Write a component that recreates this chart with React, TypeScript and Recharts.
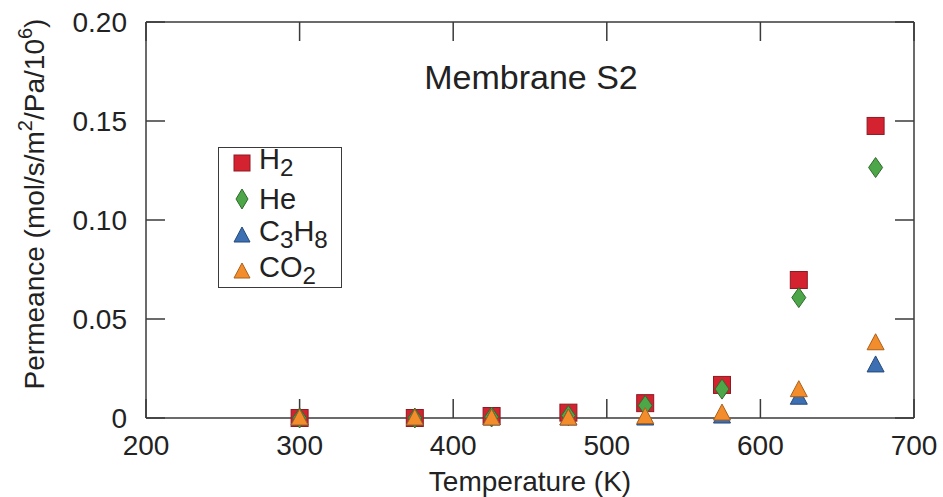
import React from 'react';
import { ScatterChart, Scatter, XAxis, YAxis, Label } from 'recharts';

// temperatures (K) and permeance (mol/s/m2/Pa/10^6)
const temps = [300, 375, 425, 475, 525, 575, 625, 675];
const h2 = [0, 0, 0.001, 0.0027, 0.0075, 0.0167, 0.0697, 0.1475];
const he = [0, 0, 0.0005, 0.0012, 0.0063, 0.0146, 0.0608, 0.1265];
const c3h8 = [0, 0, 0, 0, 0, 0.001, 0.0105, 0.0268];
const co2 = [0, 0, 0, 0, 0.0007, 0.0025, 0.0143, 0.038];

const xTicks = [200, 300, 400, 500, 600, 700];
const yTicks = [0, 0.05, 0.1, 0.15, 0.2];

const toPoints = (vals: number[]) => temps.map((t, i) => ({ t, v: vals[i] }));

const FONT = '"Liberation Sans", Arial, Helvetica, sans-serif';
const AXIS = '#3a3a3a';

const C = {
  h2: { fill: '#d42230', stroke: '#8e1a22' },
  he: { fill: '#4da648', stroke: '#2e6a2b' },
  c3h8: { fill: '#3c70b2', stroke: '#24497a' },
  co2: { fill: '#f38d2c', stroke: '#a9601c' },
};

const Square = (p: any) => (
  <rect x={p.cx - 8.5} y={p.cy - 8.5} width={17} height={17} fill={C.h2.fill} stroke={C.h2.stroke} strokeWidth={1} />
);
const Diamond = (p: any) => (
  <path d={`M${p.cx},${p.cy - 10} L${p.cx + 7},${p.cy} L${p.cx},${p.cy + 10} L${p.cx - 7},${p.cy} Z`} fill={C.he.fill} stroke={C.he.stroke} strokeWidth={1} />
);
const tri = (col: { fill: string; stroke: string }) => (p: any) => (
  <path d={`M${p.cx},${p.cy - 9} L${p.cx + 8.5},${p.cy + 7} L${p.cx - 8.5},${p.cy + 7} Z`} fill={col.fill} stroke={col.stroke} strokeWidth={1} />
);
const Nothing = () => <g />;

const YTitle = (props: any) => {
  const { viewBox } = props;
  const x = 44;
  const y = viewBox.y + viewBox.height / 2 - 16;
  return (
    <text x={x} y={y} transform={`rotate(-90 ${x} ${y})`} textAnchor="middle" fontSize={28} fontFamily={FONT} fill="#222">
      Permeance (mol/s/m<tspan dy={-12} fontSize={20}>2</tspan>
      <tspan dy={12}>/Pa/10</tspan>
      <tspan dy={-12} fontSize={20}>6</tspan>
      <tspan dy={12}>)</tspan>
    </text>
  );
};

const legendItems = [
  { key: 'h2', label: <>H<sub>2</sub></> },
  { key: 'he', label: <>He</> },
  { key: 'c3h8', label: <>C<sub>3</sub>H<sub>8</sub></> },
  { key: 'co2', label: <>CO<sub>2</sub></> },
];

const LegendIcon = ({ k }: { k: string }) => {
  if (k === 'h2') return <svg width={20} height={22}><rect x={2} y={3} width={16} height={16} fill={C.h2.fill} stroke={C.h2.stroke} /></svg>;
  if (k === 'he') return <svg width={20} height={22}><path d="M10,1 L16,11 L10,21 L4,11 Z" fill={C.he.fill} stroke={C.he.stroke} /></svg>;
  const col = k === 'c3h8' ? C.c3h8 : C.co2;
  return <svg width={20} height={22}><path d="M10,3 L18,18 L2,18 Z" fill={col.fill} stroke={col.stroke} /></svg>;
};

const tickStyle = { fontSize: 28, fontFamily: FONT, fill: '#222' };

export default function App() {
  return (
    <div style={{ position: 'absolute', left: 0, top: 0, width: 943, height: 497, background: '#fff', fontFamily: FONT }}>
      <ScatterChart width={943} height={497} margin={{ top: 21, right: 28, left: 0, bottom: 0 }}>
        <XAxis
          dataKey="t"
          type="number"
          domain={[200, 700]}
          ticks={xTicks}
          height={79}
          tickSize={-19}
          tickMargin={36}
          tick={tickStyle}
          stroke={AXIS}
          strokeWidth={1.5}
        >
          <Label value="Temperature (K)" position="insideBottom" offset={6} style={{ fontSize: 28, fontFamily: FONT, fill: '#222' }} />
        </XAxis>
        <XAxis
          xAxisId="top"
          dataKey="t"
          orientation="top"
          type="number"
          domain={[200, 700]}
          allowDataOverflow
          ticks={xTicks}
          height={1}
          tickSize={-19}
          tick={Nothing}
          stroke={AXIS}
          strokeWidth={1.5}
        />
        <YAxis
          dataKey="v"
          type="number"
          domain={[0, 0.2]}
          ticks={yTicks}
          width={146}
          tickSize={-19}
          tickMargin={38}
          tick={tickStyle}
          tickFormatter={(v: number) => (v === 0 ? '0' : v.toFixed(2))}
          stroke={AXIS}
          strokeWidth={1.5}
        >
          <Label content={YTitle} />
        </YAxis>
        <YAxis
          yAxisId="right"
          dataKey="v"
          orientation="right"
          type="number"
          domain={[0, 0.2]}
          allowDataOverflow
          ticks={yTicks}
          width={1}
          tickSize={-19}
          tick={Nothing}
          stroke={AXIS}
          strokeWidth={1.5}
        />
        {/* invisible series so the frame axes (top/right) get drawn */}
        <Scatter data={toPoints(h2)} xAxisId="top" yAxisId="right" shape={Nothing} isAnimationActive={false} />
        <Scatter name="H2" data={toPoints(h2)} shape={Square} isAnimationActive={false} />
        <Scatter name="He" data={toPoints(he)} shape={Diamond} isAnimationActive={false} />
        <Scatter name="C3H8" data={toPoints(c3h8)} shape={tri(C.c3h8)} isAnimationActive={false} />
        <Scatter name="CO2" data={toPoints(co2)} shape={tri(C.co2)} isAnimationActive={false} />
      </ScatterChart>

      <div style={{ position: 'absolute', left: 0, width: 1062, top: 57, textAlign: 'center', fontSize: 34, color: '#222', lineHeight: '40px' }}>
        Membrane S2
      </div>

      <div
        style={{
          position: 'absolute',
          left: 218,
          top: 147,
          width: 124,
          height: 141,
          border: `1.5px solid ${AXIS}`,
          boxSizing: 'border-box',
          background: '#fff',
        }}
      >
        {legendItems.map((it, i) => (
          <div
            key={it.key}
            style={{
              position: 'absolute',
              left: 13,
              top: -3 + i * 36,
              display: 'flex',
              alignItems: 'center',
              height: 36,
              fontSize: 29,
              color: '#222',
            }}
          >
            <LegendIcon k={it.key} />
            <span style={{ marginLeft: 7, lineHeight: '36px' }}>{it.label}</span>
          </div>
        ))}
      </div>
    </div>
  );
}
